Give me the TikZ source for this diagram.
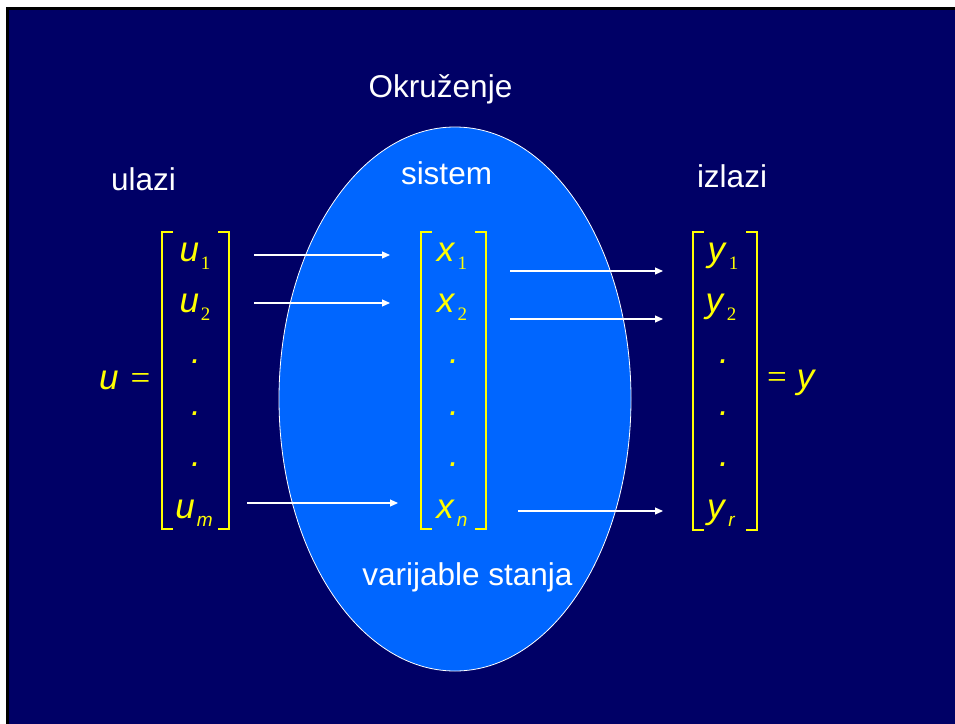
\documentclass[tikz,border=0pt]{standalone}
\usepackage{fontspec}
\setmainfont{Liberation Sans}
\newfontfamily\serfont{Liberation Serif}
\usetikzlibrary{shapes.geometric,arrows.meta,calc}
\usepackage{xcolor}
\definecolor{SlideNavy}{RGB}{0,0,102}
\definecolor{SystemBlue}{RGB}{0,102,255}
\definecolor{EntryYellow}{RGB}{255,255,0}
\newcommand{\subvar}[2]{\textit{#1}\hspace{2pt}\raisebox{-8pt}{\fontsize{19}{19}\selectfont #2}}

\begin{document}
\begin{tikzpicture}[
  x=1pt, y=-1pt,
  label/.style={text=white, font=\fontsize{31.5}{37}\selectfont, anchor=base, inner sep=0pt},
  entry/.style={text=EntryYellow, font=\fontsize{35}{42}\selectfont, anchor=base, inner sep=0pt},
  matbox/.style={minimum height=297pt, inner sep=0pt},
  bracket/.style={draw=EntryYellow, line width=1.8pt},
  sysellipse/.style={ellipse, draw=white, line width=0.8pt, fill=SystemBlue, minimum width=352pt, minimum height=544pt, inner sep=0pt},
  arr/.style={-{Triangle[length=8pt,width=7pt]}, white, line width=1.1pt}
]
\useasboundingbox (0,0) rectangle (955,723);
\fill[white] (0,0) rectangle (965,733);
\fill[black] (6,7) rectangle (965,733);
\fill[SlideNavy] (9,10) rectangle (965,733);

\node[sysellipse] (sys) at (455,399) {};

\node[label] (okr) at (440.5,97) {Okruženje};
\node[label] (sistem) at (446.5,184) {sistem};
\node[label] (ulazi) at (143.5,190) {ulazi};
\node[label] (izlazi) at (732,187) {izlazi};
\node[label] (varst) at (467.5,585) {varijable stanja};

\node[matbox, minimum width=67pt] (umat) at (195.5,380.5) {};
\node[matbox, minimum width=65pt] (xmat) at (453.5,380.5) {};
\node[matbox, minimum width=64pt] (ymat) at (725,381) {};
\foreach \m in {umat,xmat,ymat}{
  \draw[bracket] ([xshift=11pt]\m.north west) -- (\m.north west) -- (\m.south west) -- ([xshift=11pt]\m.south west);
  \draw[bracket] ([xshift=-11pt]\m.north east) -- (\m.north east) -- (\m.south east) -- ([xshift=-11pt]\m.south east);
}

\node[entry] (u1) at (195,261) {\subvar{u}{\serfont 1}};
\node[entry] (u2) at (195,312) {\subvar{u}{\serfont 2}};
\node[entry] (um) at (194,518) {\subvar{u}{\itshape m}};
\node[entry] (x1) at (452,261) {\subvar{x}{\serfont 1}};
\node[entry] (x2) at (452,312) {\subvar{x}{\serfont 2}};
\node[entry] (xn) at (452,518) {\subvar{x}{\itshape n}};
\node[entry] (y1) at (723,261) {\subvar{y}{\serfont 1}};
\node[entry] (y2) at (721,312) {\subvar{y}{\serfont 2}};
\node[entry] (yr) at (721,518) {\subvar{y}{\itshape r}};
\foreach \col/\xpos in {u/196,x/454,y/724}
  \foreach \k in {1,2,3}
    \node[entry] (\col dot\k) at (\xpos,{261+51.4*(\k+1)}) {\textit{.}};

\node[entry, anchor=base west] (ueq) at (99,389) {\textit{u}\hspace{12pt}{\serfont =}};
\node[entry, anchor=base west] (yeq) at (767,388) {{\serfont =}\hspace{10pt}\textit{y}};

\draw[arr] ([shift={(59,-6)}]u1.base) -- ([shift={(-62,-6)}]x1.base);
\draw[arr] ([shift={(59,-9)}]u2.base) -- ([shift={(-62,-9)}]x2.base);
\draw[arr] ([shift={(53,-15)}]um.base) -- ([shift={(-54,-15)}]xn.base);
\draw[arr] ([shift={(58,10)}]x1.base) -- ([shift={(-60,10)}]y1.base);
\draw[arr] ([shift={(58,7)}]x2.base) -- ([shift={(-58,7)}]y2.base);
\draw[arr] ([shift={(66,-7)}]xn.base) -- ([shift={(-58,-7)}]yr.base);
\end{tikzpicture}
\end{document}
